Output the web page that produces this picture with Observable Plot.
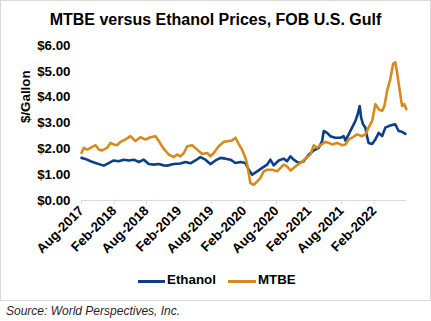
<!DOCTYPE html>
<html><head><meta charset="utf-8">
<script src="https://cdn.jsdelivr.net/npm/d3@7"></script>
<script src="https://cdn.jsdelivr.net/npm/@observablehq/plot@0.6"></script>
<style>
body{margin:0;background:#fff;font-family:"Liberation Sans",Arial,sans-serif;}
#wrap{position:relative;width:431px;height:321px;overflow:hidden;background:#fff;}
#box{position:absolute;left:0;top:0;width:429px;height:299px;border:1px solid #d9d9d9;}
#title{position:absolute;left:0;top:11px;width:431px;text-align:center;font-weight:bold;font-size:16px;line-height:18px;color:#000;}
#chart{position:absolute;left:0;top:30px;}
.sw{position:absolute;height:3px;top:279.5px;}
.lt{position:absolute;top:272.4px;font-weight:bold;font-size:13.33px;line-height:16px;color:#000;}
#source{position:absolute;left:6px;top:304px;font-style:italic;font-size:12px;line-height:14px;color:#1f1f1f;}
</style></head>
<body>
<div id="wrap">
  <div id="box"></div>
  <div id="title">MTBE versus Ethanol Prices, FOB U.S. Gulf</div>
  <div id="chart"></div>
  <div class="sw" style="left:138px;width:27px;background:#0D3F87"></div>
  <div class="lt" style="left:167px">Ethanol</div>
  <div class="sw" style="left:228px;width:28px;background:#D68A1E"></div>
  <div class="lt" style="left:258px">MTBE</div>
  <div id="source">Source: World Perspectives, Inc.</div>
</div>
<script>
const yTicks = [0, 1, 2, 3, 4, 5, 6];
const xTickLabels = ["Aug-2017","Feb-2018","Aug-2018","Feb-2019","Aug-2019","Feb-2020","Aug-2020","Feb-2021","Aug-2021","Feb-2022"];
const yLabel = "$/Gallon";

const ethanolDates = ["2017-08-01","2017-08-23","2017-09-21","2017-10-19","2017-12-04","2018-01-01","2018-01-29","2018-02-26","2018-03-27","2018-04-24","2018-05-22","2018-06-19","2018-07-17","2018-08-14","2018-09-11","2018-10-09","2018-11-06","2018-11-25","2019-01-01","2019-02-08","2019-03-08","2019-04-05","2019-05-03","2019-05-31","2019-06-28","2019-07-26","2019-08-24","2019-09-21","2019-10-19","2019-11-16","2019-12-14","2020-01-11","2020-02-08","2020-02-27","2020-03-17","2020-04-14","2020-05-12","2020-06-09","2020-06-27","2020-07-16","2020-08-13","2020-09-10","2020-09-29","2020-10-18","2020-11-05","2020-12-03","2020-12-31","2021-01-29","2021-02-26","2021-03-26","2021-04-14","2021-04-23","2021-05-12","2021-05-30","2021-06-27","2021-07-26","2021-08-13","2021-08-23","2021-09-10","2021-09-29","2021-10-18","2021-10-31","2021-11-11","2021-11-19","2021-11-30","2021-12-13","2021-12-22","2021-12-31","2022-01-20","2022-02-07","2022-02-26","2022-03-17","2022-04-04","2022-04-23","2022-05-12","2022-05-30","2022-06-18","2022-07-07","2022-07-26"];
const ethanolValues = [1.65,1.61,1.52,1.45,1.35,1.45,1.55,1.52,1.58,1.55,1.58,1.49,1.58,1.41,1.39,1.41,1.36,1.35,1.41,1.43,1.49,1.44,1.55,1.68,1.58,1.41,1.55,1.65,1.62,1.58,1.45,1.49,1.45,1.19,1.00,1.13,1.26,1.39,1.58,1.36,1.55,1.62,1.52,1.71,1.58,1.45,1.52,1.78,1.94,2.04,2.30,2.69,2.62,2.49,2.43,2.43,2.49,2.32,2.56,2.82,3.08,3.34,3.66,3.21,2.95,2.82,2.49,2.23,2.19,2.36,2.62,2.49,2.82,2.88,2.92,2.95,2.69,2.66,2.58];

const mtbeDates = ["2017-08-01","2017-08-14","2017-09-02","2017-09-21","2017-10-19","2017-11-06","2017-11-25","2017-12-23","2018-01-11","2018-01-29","2018-02-17","2018-03-08","2018-04-05","2018-05-03","2018-05-31","2018-06-28","2018-07-26","2018-08-23","2018-09-21","2018-10-09","2018-11-06","2018-12-04","2019-01-01","2019-01-20","2019-02-08","2019-02-27","2019-03-18","2019-04-15","2019-05-13","2019-06-10","2019-07-08","2019-07-26","2019-08-14","2019-09-11","2019-10-09","2019-11-06","2019-11-25","2019-12-14","2020-01-01","2020-01-20","2020-02-08","2020-02-18","2020-03-07","2020-03-26","2020-04-14","2020-05-02","2020-05-21","2020-06-09","2020-07-07","2020-08-04","2020-08-23","2020-09-10","2020-09-29","2020-10-18","2020-11-15","2020-12-13","2021-01-10","2021-02-07","2021-02-26","2021-03-17","2021-04-04","2021-05-02","2021-05-21","2021-06-09","2021-07-07","2021-08-04","2021-08-23","2021-09-10","2021-09-29","2021-10-27","2021-11-24","2021-12-13","2021-12-31","2022-01-20","2022-02-07","2022-02-26","2022-03-17","2022-03-30","2022-04-14","2022-05-02","2022-05-18","2022-05-30","2022-06-09","2022-06-24","2022-07-07","2022-07-20","2022-07-31"];
const mtbeValues = [1.84,2.04,1.97,2.04,2.14,1.97,1.94,2.04,2.23,2.17,2.14,2.27,2.36,2.49,2.30,2.45,2.36,2.45,2.49,2.30,2.00,1.78,1.68,1.78,1.71,1.84,2.10,2.14,1.97,1.80,1.84,1.71,1.84,2.10,2.27,2.30,2.32,2.43,2.19,1.97,1.65,1.39,0.67,0.61,0.74,0.87,1.13,1.19,1.19,1.13,1.26,1.39,1.32,1.16,1.32,1.45,1.62,1.78,2.14,2.04,2.14,2.27,2.23,2.17,2.23,2.14,2.17,2.36,2.43,2.56,2.49,2.56,2.82,3.08,3.73,3.53,3.47,3.66,4.25,4.70,5.29,5.35,4.96,4.25,3.66,3.73,3.53];

const parse = d3.utcParse("%Y-%m-%d");
const ethanol = ethanolDates.map((d, i) => ({date: parse(d), value: ethanolValues[i]}));
const mtbe = mtbeDates.map((d, i) => ({date: parse(d), value: mtbeValues[i]}));
const fmt = d3.utcFormat("%b-%Y");
const xTicks = xTickLabels.map(d3.utcParse("%b-%Y"));

const chart = Plot.plot({
  width: 431, height: 230,
  marginLeft: 81, marginRight: 25, marginTop: 15, marginBottom: 60,
  style: {fontFamily: "'Liberation Sans', Arial, sans-serif", fontSize: "13.33px", fontWeight: "bold", color: "#000", background: "transparent"},
  x: {type: "utc", domain: [new Date(Date.UTC(2017,7,1)), new Date(Date.UTC(2022,7,1))]},
  y: {domain: [0, 6]},
  marks: [
    Plot.axisY({ticks: yTicks, tickSize: 0, tickPadding: 11, tickFormat: d => "$" + d.toFixed(2), label: null}),
    Plot.ruleY([0], {stroke: "#d9d9d9", strokeWidth: 1}),
    Plot.axisX({ticks: xTicks, tickSize: 4, stroke: "#d9d9d9", strokeOpacity: 1, tickFormat: () => "", label: null}),
    Plot.axisX({ticks: xTicks, tickSize: 0, tickPadding: 8, tickRotate: -45, tickFormat: fmt, label: null}),
    Plot.line(ethanol, {x: "date", y: "value", stroke: "#0D3F87", strokeWidth: 2.6}),
    Plot.line(mtbe, {x: "date", y: "value", stroke: "#D68A1E", strokeWidth: 2.6}),
    Plot.text([yLabel], {frameAnchor: "left", dx: -56, rotate: -90, text: d => d, fill: "#000"})
  ]
});
document.getElementById("chart").appendChild(chart);
</script>
</body></html>
